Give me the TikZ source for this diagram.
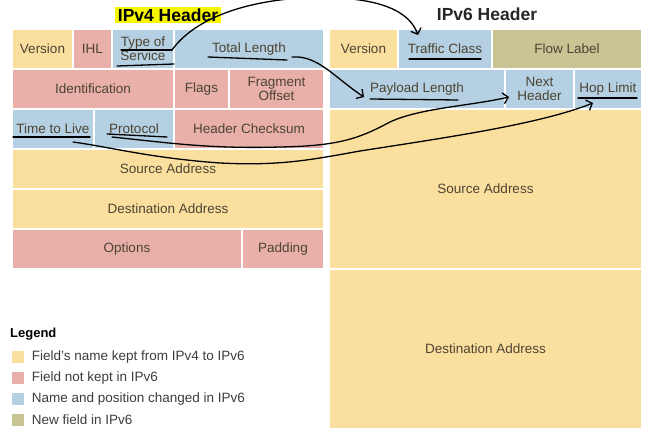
\documentclass[tikz,border=0pt]{standalone}
\usepackage{fontspec}
\setmainfont{Liberation Sans}
\usetikzlibrary{positioning,arrows.meta}
\definecolor{keepc}{RGB}{251,223,158}
\definecolor{gonec}{RGB}{232,176,168}
\definecolor{movedc}{RGB}{180,208,226}
\definecolor{newc}{RGB}{200,196,148}
\definecolor{txtc}{RGB}{77,68,52}
\definecolor{legc}{RGB}{60,60,60}
\definecolor{hilite}{RGB}{246,246,0}
\newcommand{\cellfont}{\fontsize{13.5}{14}\selectfont}

\begin{document}
\begin{tikzpicture}[x=1pt,y=-1pt,
    cell/.style={inner sep=0pt, align=center, text=txtc, font=\cellfont},
    sz/.style 2 args={minimum width=#1pt, minimum height=#2pt},
    keep/.style={cell, fill=keepc},
    gone/.style={cell, fill=gonec},
    moved/.style={cell, fill=movedc},
    newf/.style={cell, fill=newc},
    swatch/.style={minimum size=12pt, inner sep=0pt},
    legtxt/.style={inner sep=0pt, text=legc, font=\cellfont},
    pen/.style={line width=1.3pt, black, line cap=round, line join=round},
    hand/.style={pen, -{Straight Barb[length=5pt,width=11pt]}}]
      \useasboundingbox (0,0) rectangle (662,441);
      \clip (0,0) rectangle (662,441);
      \node[fill=hilite, inner xsep=3pt, inner ysep=0pt, minimum height=16pt, font=\bfseries\fontsize{17.5}{18}\selectfont] (t4) at (168,15) {IPv4 Header};
      \node[inner sep=0pt, font=\bfseries\fontsize{17.5}{18}\selectfont, text=black!85] (t6) at (487,14) {IPv6 Header};
      % IPv4
      \node[keep, sz={59}{38}] (v4ver) at (42.5,49) {Version};
      \node[gone, sz={37}{38}] (v4ihl) at (92.5,49) {IHL};
      \node[moved, sz={60}{38}] (v4tos) at (143,49) {Type of\\Service};
      \node[moved, sz={148}{38}] (v4len) at (249,49) {Total Length};
      \node[gone, sz={160}{38}] (v4id) at (93,89) {Identification};
      \node[gone, sz={53}{38}] (v4flags) at (201.5,89) {Flags};
      \node[gone, sz={93}{38}] (v4frag) at (276.5,89) {Fragment\\Offset};
      \node[moved, sz={80}{38}] (v4ttl) at (53,129) {Time to Live};
      \node[moved, sz={78}{38}] (v4proto) at (134,129) {Protocol};
      \node[gone, sz={148}{38}] (v4sum) at (249,129) {Header Checksum};
      \node[keep, sz={310}{38}] (v4src) at (168,169) {Source Address};
      \node[keep, sz={310}{38}] (v4dst) at (168,209) {Destination Address};
      \node[gone, sz={228}{38}] (v4opt) at (127,249) {Options};
      \node[gone, sz={80}{38}] (v4pad) at (283,249) {Padding};
      % IPv6
      \node[keep, sz={67}{38}] (v6ver) at (363.5,49) {Version};
      \node[moved, sz={92}{38}] (v6tc) at (445,49) {Traffic Class};
      \node[newf, sz={148}{38}] (v6flow) at (567,49) {Flow Label};
      \node[moved, sz={174}{38}] (v6plen) at (417,89) {Payload Length};
      \node[moved, sz={67}{38}] (v6next) at (539.5,89) {Next\\Header};
      \node[moved, sz={66}{38}] (v6hop) at (608,89) {Hop Limit};
      \node[keep, sz={311}{158}] (v6src) at (485.5,189) {Source Address};
      \node[keep, sz={311}{158}] (v6dst) at (485.5,349) {Destination Address};
      % legend
      \node[anchor=west, inner sep=0pt, font=\bfseries\fontsize{13}{15}\selectfont] (legend) at (10,334) {Legend};
      \node[swatch, fill=keepc] (lgkeep) at (17.5,357) {};
      \node[legtxt, right=8pt of lgkeep] (lgkeeptxt) {Field's name kept from IPv4 to IPv6};
      \node[swatch, fill=gonec] (lggone) at (17.5,378) {};
      \node[legtxt, right=8pt of lggone] (lggonetxt) {Field not kept in IPv6};
      \node[swatch, fill=movedc] (lgmoved) at (17.5,399) {};
      \node[legtxt, right=8pt of lgmoved] (lgmovedtxt) {Name and position changed in IPv6};
      \node[swatch, fill=newc] (lgnew) at (17.5,420) {};
      \node[legtxt, right=8pt of lgnew] (lgnewtxt) {New field in IPv6};
      % hand-drawn marks
      \coordinate (tosA) at (121,50);
      \coordinate (tosB) at (172,50);
      \coordinate (svcA) at (117,66);
      \coordinate (svcB) at (174,64);
      \coordinate (tlA) at (208,57);
      \coordinate (tlB) at (287,60);
      \coordinate (tlC) at (292,57);
      \coordinate (ttlA) at (13,137);
      \coordinate (ttlB) at (90,137);
      \coordinate (ttlC) at (73,142);
      \coordinate (prA) at (107,134);
      \coordinate (prB) at (167,137);
      \coordinate (prC) at (112,137);
      \coordinate (tcA) at (409,59);
      \coordinate (tcB) at (481,59);
      \coordinate (tcT) at (418,35);
      \coordinate (plA) at (370,99);
      \coordinate (plB) at (458,100);
      \coordinate (plT) at (364,97);
      \coordinate (nhT) at (509,97);
      \coordinate (hlA) at (578,98);
      \coordinate (hlB) at (637,98);
      \coordinate (hlT) at (593,103);
      \draw[pen] (tosA) -- (tosB);
      \draw[pen] (svcA) -- (svcB);
      \draw[pen] (tlA) -- (tlB);
      \draw[pen] (ttlA) -- (ttlB);
      \draw[pen] (prA) -- (prB);
      \draw[pen] (tcA) -- (tcB);
      \draw[pen] (plA) -- (plB);
      \draw[pen] (hlA) -- (hlB);
      \draw[hand] (tosB) .. controls (190,25) and (230,3) .. (300,-2) .. controls (350,-4) and (405,0) .. (tcT);
      \draw[hand] (tlC) .. controls (318,55) and (335,78) .. (plT);
      \draw[hand] (prC) .. controls (170,143) and (210,149) .. (280,147) .. controls (340,146) and (360,138) .. (390,122) .. controls (420,108) and (470,106) .. (nhT);
      \draw[hand] (ttlC) .. controls (110,147) and (150,158) .. (220,163) .. controls (280,166) and (310,160) .. (360,151) .. controls (450,137) and (540,124) .. (hlT);
    \end{tikzpicture}
\end{document}
